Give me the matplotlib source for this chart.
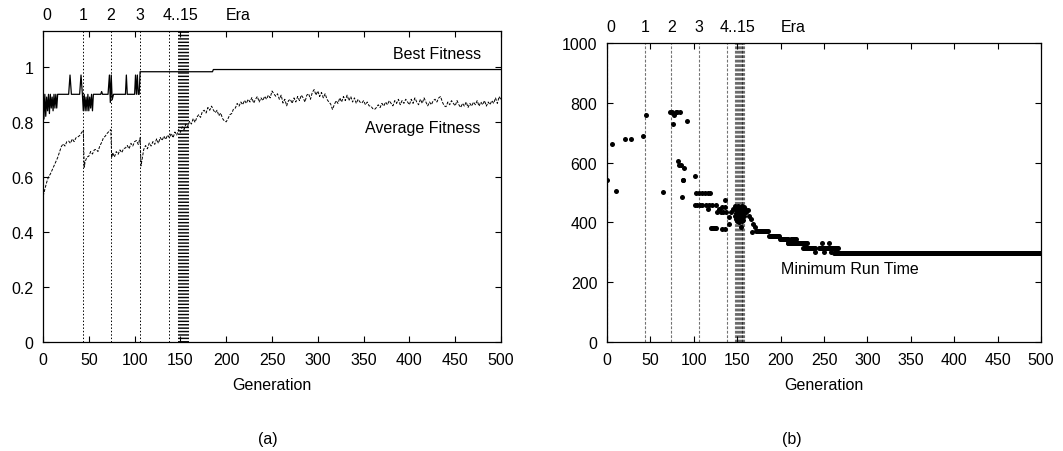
import numpy as np
import matplotlib.pyplot as plt

plt.rcParams['font.family'] = ['Liberation Sans', 'DejaVu Sans']
plt.rcParams['font.size'] = 11.5

# era boundaries (generation where each era starts)
era_gen = [0, 44, 74, 106, 138, 147, 149, 150, 151, 152, 153, 154, 155, 156, 157, 158]
era_labels = ['0', '1', '2', '3', '4..15']
era_label_gen = [4, 44, 74, 106, 150]

# best fitness (line)
best_gen = [0, 1, 2, 3, 4, 5, 6, 7, 8, 9, 10, 11, 12, 13, 14, 15, 16, 18, 28, 29.5, 31, 40, 41.5, 43,
            44, 45, 46, 47, 48, 49, 50, 51, 52, 53, 54, 55, 56, 58, 63, 64, 65, 71, 72.5, 73.5, 74.5,
            75.5, 77, 90, 91, 92, 100, 101, 102, 103, 104, 105, 106, 185, 186, 500]
best_val = [0.90, 0.81, 0.90, 0.82, 0.89, 0.84, 0.90, 0.83, 0.90, 0.85, 0.89, 0.84, 0.90, 0.85, 0.90,
            0.85, 0.90, 0.90, 0.90, 0.97, 0.90, 0.90, 0.97, 0.90,
            0.84, 0.90, 0.84, 0.89, 0.84, 0.90, 0.84, 0.89, 0.85, 0.90, 0.84, 0.90, 0.90, 0.90, 0.90,
            0.91, 0.90, 0.90, 0.97, 0.87, 0.97, 0.88, 0.90, 0.90, 0.97, 0.90, 0.90, 0.97, 0.90, 0.97,
            0.90, 0.90, 0.982, 0.982, 0.99, 0.99]

# average fitness (line)
avg_gen_early = [0, 1, 2, 4, 6, 8, 10, 12, 14, 16, 18, 20, 22, 24, 26, 28, 30, 32, 34, 36, 38, 40, 42, 44,
                 45, 46, 48, 50, 52, 54, 56, 58, 60, 62, 64, 66, 68, 70, 72, 74,
                 75, 76, 78, 80, 82, 84, 86, 88, 90, 92, 94, 96, 98, 100, 102, 104, 106,
                 107, 108, 110, 112, 114, 116, 118, 120, 122, 124, 126, 128, 130, 132, 134, 136, 138,
                 140, 142, 144, 146, 148]
avg_val_early = [0.53, 0.54, 0.555, 0.58, 0.60, 0.61, 0.625, 0.64, 0.655, 0.67, 0.69, 0.71, 0.72, 0.712,
                 0.728, 0.73, 0.722, 0.738, 0.728, 0.742, 0.745, 0.75, 0.76, 0.77,
                 0.635, 0.655, 0.672, 0.675, 0.692, 0.683, 0.698, 0.70, 0.692, 0.712, 0.725, 0.742,
                 0.748, 0.758, 0.765, 0.772,
                 0.67, 0.688, 0.672, 0.692, 0.682, 0.698, 0.688, 0.703, 0.705, 0.714, 0.702, 0.722,
                 0.712, 0.728, 0.732, 0.718, 0.742,
                 0.64, 0.66, 0.70, 0.714, 0.702, 0.723, 0.712, 0.728, 0.718, 0.738, 0.722, 0.743,
                 0.732, 0.748, 0.736, 0.752, 0.742, 0.758, 0.742, 0.763, 0.752, 0.772]
avg_gen_late = list(range(150, 501, 2))
avg_val_late = [0.762, 0.782, 0.772, 0.792, 0.782, 0.802, 0.792, 0.812, 0.798, 0.817, 0.826, 0.816,
                0.838, 0.842, 0.832, 0.852, 0.842, 0.857, 0.843, 0.833, 0.842, 0.822, 0.832, 0.812,
                0.803, 0.80, 0.812, 0.826, 0.83, 0.847, 0.85, 0.867, 0.857, 0.872, 0.862, 0.878, 0.867,
                0.882, 0.872, 0.888, 0.868, 0.882, 0.892, 0.872, 0.887, 0.877, 0.893, 0.882, 0.897,
                0.887, 0.912, 0.902, 0.893, 0.902, 0.882, 0.897, 0.868, 0.882, 0.858, 0.877, 0.882,
                0.867, 0.887, 0.872, 0.892, 0.877, 0.897, 0.887, 0.872, 0.897, 0.902, 0.882, 0.907,
                0.917, 0.897, 0.912, 0.892, 0.907, 0.887, 0.902, 0.882, 0.872, 0.865, 0.845, 0.862,
                0.877, 0.867, 0.887, 0.872, 0.892, 0.877, 0.897, 0.877, 0.892, 0.872, 0.887, 0.867,
                0.882, 0.872, 0.868, 0.877, 0.862, 0.872, 0.858, 0.857, 0.848, 0.845, 0.852, 0.862,
                0.852, 0.867, 0.857, 0.872, 0.862, 0.877, 0.867, 0.858, 0.877, 0.867, 0.882, 0.862,
                0.877, 0.867, 0.882, 0.872, 0.862, 0.882, 0.867, 0.887, 0.872, 0.862, 0.882, 0.867,
                0.887, 0.872, 0.858, 0.872, 0.862, 0.877, 0.882, 0.872, 0.887, 0.892, 0.872, 0.858,
                0.855, 0.872, 0.862, 0.877, 0.867, 0.858, 0.877, 0.862, 0.852, 0.867, 0.857, 0.872,
                0.852, 0.867, 0.857, 0.872, 0.862, 0.877, 0.857, 0.872, 0.862, 0.877, 0.857, 0.872,
                0.862, 0.877, 0.867, 0.887, 0.867, 0.892, 0.88]

# minimum run time: isolated points
rt_gen = [0, 6, 10, 21, 28, 41, 45, 64, 73, 75, 77, 79, 81, 84, 76, 92, 82, 83, 85, 89, 87, 88, 86, 101,
          103, 106, 109, 113, 116, 119, 101, 104, 107, 110, 114, 118, 121, 116, 126, 129, 133,
          120, 121, 122, 123, 124, 125, 132, 136, 127, 131, 134, 137, 136, 136, 140, 140, 143, 145,
          147, 148, 149, 150, 151, 152, 153, 154, 155, 156, 157, 158, 159, 160,
          148, 149, 150, 151, 152, 153, 154, 155, 156, 157, 158,
          149, 151, 153, 155, 157, 154, 162, 164, 166, 168, 170, 167, 240, 248, 256, 250, 258]
rt_val = [542, 662, 506, 678, 678, 688, 759, 503, 768, 768, 759, 768, 768, 768, 728, 738, 606, 592, 592,
          581, 542, 542, 486, 556,
          500, 500, 500, 500, 500, 500, 459, 459, 459, 459, 459, 459, 459, 445, 459, 445, 450,
          380, 380, 380, 380, 380, 380, 378, 378, 434, 434, 434, 434, 476, 450, 395, 417, 434, 445,
          456, 445, 452, 440, 456, 448, 444, 452, 456, 446, 440, 452, 444, 436,
          420, 411, 405, 418, 400, 411, 422, 404, 415, 408, 420,
          430, 434, 428, 432, 426, 385, 440, 422, 411, 395, 385, 369, 302, 330, 330, 302, 302]

# minimum run time: plateaus (one point per generation)
run_start = [172, 187, 199, 208, 212, 220, 226, 244, 254, 262]
run_end = [185, 198, 208, 220, 218, 230, 240, 258, 266, 500]
run_val = [370, 356, 344, 330, 344, 330, 314, 314, 314, 298]

fig = plt.figure(figsize=(10.63, 4.52), dpi=100)
ax1 = fig.add_axes([43 / 1063, 1 - 343 / 452, 458 / 1063, 311 / 452])
ax2 = fig.add_axes([607 / 1063, 1 - 343 / 452, 434 / 1063, 299 / 452])

for ax in (ax1, ax2):
    ax.set_xlim(0, 500)
    ax.set_xticks(np.arange(0, 501, 50))
    ax.tick_params(direction='in', top=True, right=True, length=4, width=0.8,
                   labelsize=11.5, pad=7)
    for s in ax.spines.values():
        s.set_linewidth(0.9)

# (a) fitness
for g in era_gen:
    ax1.axvline(g, color='black', lw=0.7, dashes=(1.5, 2), zorder=1)
ax1.plot(best_gen, best_val, color='black', lw=0.9, zorder=3)
ax1.plot(avg_gen_early + avg_gen_late, avg_val_early + avg_val_late,
         color='black', lw=0.7, dashes=(3, 1.5), zorder=3)
ax1.set_ylim(0, 1.13)
ax1.set_yticks([0, 0.2, 0.4, 0.6, 0.8, 1.0])
ax1.set_yticklabels(['0', '0.2', '0.4', '0.6', '0.8', '1'])
ax1.text(478, 1.05, 'Best Fitness', ha='right', va='center')
ax1.text(478, 0.78, 'Average Fitness', ha='right', va='center')

# (b) run time
for g in era_gen:
    ax2.axvline(g, color='black', alpha=0.55, lw=0.8, dashes=(2.5, 1.5), zorder=1)
ax2.plot(rt_gen, rt_val, 'o', color='black', ms=3.6, mew=0, zorder=3)
for a, b, v in zip(run_start, run_end, run_val):
    gens = np.arange(a, b + 1)
    ax2.plot(gens, np.full(len(gens), v), 'o', color='black', ms=3.6, mew=0, zorder=3)
ax2.set_ylim(0, 1000)
ax2.set_yticks(np.arange(0, 1001, 200))
ax2.text(200, 247, 'Minimum Run Time', ha='left', va='center')

# era labels above each panel
for ax, ypx in ((ax1, 15), (ax2, 28)):
    pos = ax.get_position()
    for lab, g in zip(era_labels, era_label_gen):
        fig.text(pos.x0 + g / 500 * pos.width, 1 - ypx / 452, lab, ha='center', va='center')
    fig.text(pos.x0 + 200 / 500 * pos.width, 1 - ypx / 452, 'Era', ha='left', va='center')

# axis titles and panel captions
fig.text(272 / 1063, 1 - 385 / 452, 'Generation', ha='center', va='center')
fig.text(824 / 1063, 1 - 385 / 452, 'Generation', ha='center', va='center')
fig.text(268 / 1063, 1 - 440 / 452, '(a)', ha='center', va='center')
fig.text(792 / 1063, 1 - 440 / 452, '(b)', ha='center', va='center')

fig.savefig('out.png', dpi=100)
